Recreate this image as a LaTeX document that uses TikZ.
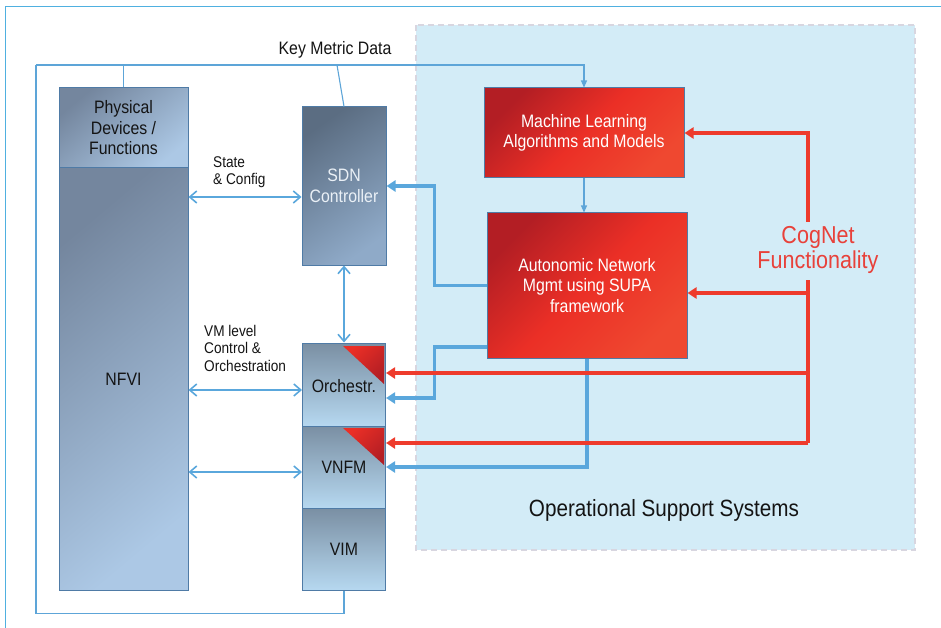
\documentclass[tikz,border=0pt]{standalone}
\usepackage{fontspec}
\setmainfont{Liberation Sans}[FakeStretch=0.88]
\usetikzlibrary{arrows.meta}
\definecolor{frameblue}{HTML}{4FB0E0}
\definecolor{loopblue}{HTML}{5DA5D8}
\definecolor{ossfill}{HTML}{D3ECF7}
\definecolor{ossedge}{HTML}{D8D6E0}
\definecolor{boxedge}{HTML}{4F7BA6}
\definecolor{gdark}{HTML}{74869E}
\definecolor{glight}{HTML}{ACC8E5}
\definecolor{sdark}{HTML}{5B6D82}
\definecolor{slight}{HTML}{8FAAC8}
\definecolor{vtop}{HTML}{7A8FA3}
\definecolor{vbot}{HTML}{B6D8F0}
\definecolor{rdark}{HTML}{B31E24}
\definecolor{rmid}{HTML}{EB2F26}
\definecolor{rlight}{HTML}{EF4830}
\definecolor{arrblue}{HTML}{5AA7DC}
\definecolor{arrred}{HTML}{EE3B2C}
\definecolor{cogred}{HTML}{E8413A}
\definecolor{txtdark}{HTML}{141414}
\definecolor{txtlight}{HTML}{EAF0F6}
\tikzset{
  gbox/.style={draw=boxedge, line width=1pt, inner sep=0pt, align=center,
    top color=gdark, bottom color=glight, shading angle=40, text=txtdark},
  sbox/.style={draw=boxedge, line width=1pt, inner sep=0pt, align=center,
    top color=sdark, bottom color=slight, shading angle=35, text=txtlight},
  vbox/.style={draw=boxedge, line width=1pt, inner sep=0pt, align=center,
    top color=vtop, bottom color=vbot, text=txtdark},
  rbox/.style={draw=boxedge, line width=1pt, inner sep=0pt, align=center,
    top color=rdark, bottom color=rlight, middle color=rmid, shading angle=45, text=white},
  thinarr/.style={draw=arrblue, line width=1.4pt,
    {Straight Barb[length=7pt,width=12pt,line width=1.6pt]}-{Straight Barb[length=7pt,width=12pt,line width=1.6pt]}},
  loopln/.style={draw=loopblue, line width=1.1pt},
  smallarr/.style={draw=loopblue, line width=1.1pt, -{Triangle[length=7pt,width=6pt]}},
  bluearr/.style={draw=arrblue, line width=3.4pt, -{Triangle[length=9pt,width=11pt]}},
  redarr/.style={draw=arrred, line width=3.4pt, -{Triangle[length=9pt,width=11pt]}},
  redln/.style={draw=arrred, line width=3.4pt},
  corner/.style={top color=rmid, bottom color=rdark, shading angle=45},
  lbl/.style={font=\fontsize{15.5}{17.5}\selectfont, text=txtdark, align=left, inner sep=0pt},
}
\begin{document}
\begin{tikzpicture}[x=1pt,y=-1pt,font=\fontsize{18}{20.5}\selectfont]
\useasboundingbox (0,0) rectangle (941,628);
% OSS region
\fill[ossfill] (416,25) rectangle (915,550);
\draw[ossedge, line width=1.2pt, dash pattern=on 6pt off 4pt] (416,25) rectangle (915,550);
\node[font=\fontsize{23.5}{26}\selectfont, text=txtdark] (oss) at (664,510) {Operational Support Systems};
% outer frame
\draw[frameblue, line width=1pt] (5,628) -- (5,7) -- (941,7);

% boxes
\node[gbox, minimum width=129pt, minimum height=80pt] (phys) at (123.5,128) {Physical\\Devices /\\Functions};
\node[gbox, minimum width=129pt, minimum height=422pt] (nfvi) at (123.5,379) {NFVI};
\node[sbox, minimum width=84pt, minimum height=158pt] (sdn) at (344,186) {SDN\\Controller};
\node[vbox, minimum width=83pt, minimum height=83pt] (orch) at (344,384.5) {};
\node[vbox, minimum width=83pt, minimum height=82pt] (vnfm) at (344,467) {};
\node[vbox, minimum width=83pt, minimum height=82pt] (vim) at (344,549) {VIM};
\shade[corner] (343,346) -- (384,346) -- (384,384) -- cycle;
\shade[corner] (343,428) -- (384,428) -- (384,465) -- cycle;
\node[text=txtdark] (orchlbl) at ([yshift=-2pt]orch.center) {Orchestr.};
\node[text=txtdark] (vnfmlbl) at (vnfm.center) {VNFM};
\node[rbox, minimum width=200pt, minimum height=90pt] (ml) at (584,133) {Machine Learning\\Algorithms and Models};
\node[rbox, minimum width=200pt, minimum height=145pt] (anm) at (587,285.5) {Autonomic Network\\Mgmt using SUPA\\framework};

% key metric loop
\coordinate (kmcorner) at (36,65);
\coordinate (kmtap) at (337,65);
\draw[loopln] (vim.south) -- ++(0,23) -| (kmcorner);
\draw[smallarr] (kmcorner) -| (ml.north);
\draw[loopln] (phys.north) -- (phys.north |- kmcorner);
\draw[loopln] (sdn.north) -- (kmtap);
\node[lbl, font=\fontsize{18}{20}\selectfont] (kmd) at (335,50) {Key Metric Data};
\draw[smallarr] (ml.south) -- (ml.south |- anm.north);

% double arrows
\coordinate (sdnin) at ([yshift=-11pt]sdn.west);
\coordinate (orchin) at ([yshift=-5.5pt]orch.west);
\coordinate (vnfmin) at ([yshift=-5pt]vnfm.west);
\draw[thinarr] (phys.east |- sdnin) -- (sdnin);
\draw[thinarr] (nfvi.east |- orchin) -- (orchin);
\draw[thinarr] (nfvi.east |- vnfmin) -- (vnfmin);
\draw[thinarr] (sdn.south) -- (orch.north);
\node[lbl, anchor=west] (sc) at (213,172) {State\\\& Config};
\node[lbl, anchor=west] (vml) at (204,348) {VM level\\Control \&\\Orchestration};

% thick blue arrows
\coordinate (anmlow) at ([yshift=-61.5pt]anm.west);
\coordinate (orchlow) at ([yshift=-13.5pt]orch.east);
\draw[bluearr] (anm.west) -- ++(-52,0) |- (sdn.east);
\draw[bluearr] (anmlow) -- ++(-52,0) |- (orchlow);
\draw[bluearr] (anm.south) |- (vnfm.east);

% CogNet
\node[text=cogred, font=\fontsize{24.5}{25.5}\selectfont, align=center] (cog) at (818,250) {CogNet\\Functionality};
\coordinate (cogtop) at (808,222);
\coordinate (cogbot) at (808,280);
\coordinate (cogend) at (808,443);
\coordinate (cogmid) at (808,373);
\coordinate (anmin) at ([yshift=-7.5pt]anm.east);
\draw[redarr] (cogtop) |- (ml.east);
\draw[redarr] (cogbot) |- (anmin);
\draw[redln] (cogbot) -- (cogend);
\draw[redarr] (cogmid) -- (orch.east |- cogmid);
\draw[redarr] (cogend) -- (vnfm.east |- cogend);
\end{tikzpicture}
\end{document}
